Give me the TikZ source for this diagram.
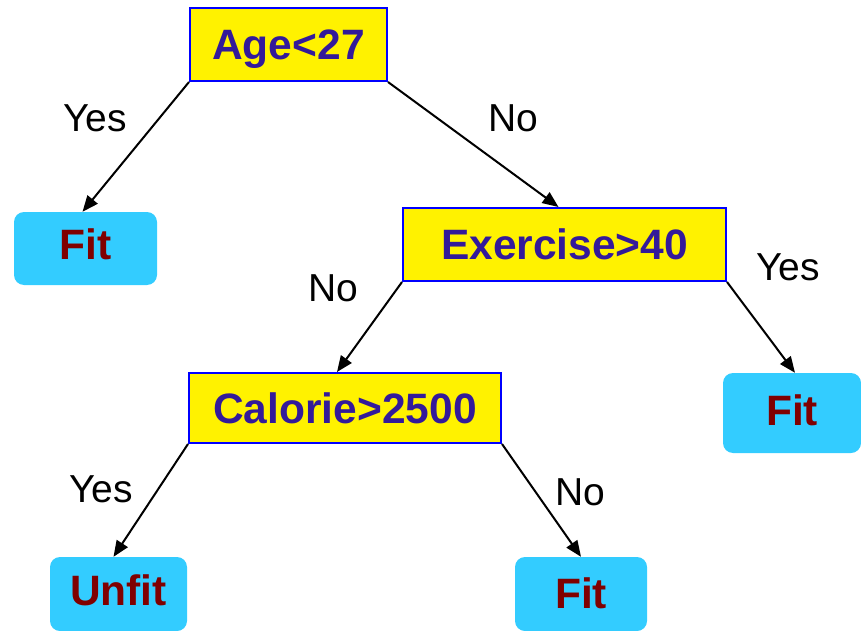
\documentclass[tikz,border=0pt]{standalone}
\usepackage{fontspec}
\setmainfont{Liberation Sans}
\usetikzlibrary{arrows.meta}
\definecolor{boxblue}{HTML}{0000FF}
\definecolor{txtblue}{HTML}{331A9A}
\definecolor{leafcyan}{HTML}{33CCFF}
\definecolor{leafred}{HTML}{800000}
\begin{document}
\begin{tikzpicture}[x=1pt,y=-1pt,
  test/.style={draw=boxblue, line width=2pt, fill=yellow, text=txtblue,
    font=\fontsize{42.5}{48}\selectfont\bfseries, inner sep=0pt,
    text height=30.4pt, text depth=0pt},
  leaf/.style={fill=leafcyan, rounded corners=10pt, text=leafred,
    font=\fontsize{42.5}{48}\selectfont\bfseries, inner sep=0pt,
    text height=30.4pt, text depth=#1},
  leaf/.default=0pt,
  edge/.style={line width=2pt, -{Triangle[length=16pt,width=13pt]}},
  lbl/.style={font=\fontsize{39}{46}\selectfont, inner sep=0pt}]
\useasboundingbox (0,0) rectangle (861,631);
\node[test, minimum width=197pt, minimum height=73pt] (age) at (288.5,44.5) {Age<27};
\node[leaf=8pt, minimum width=143pt, minimum height=73pt] (fit1) at (85.5,248.5) {Fit};
\node[test, minimum width=323pt, minimum height=73pt] (ex) at (564.5,244.5) {Exercise>40};
\node[test, minimum width=312pt, minimum height=70pt] (cal) at (345,408) {Calorie>2500};
\node[leaf=6pt, minimum width=138pt, minimum height=80pt] (fit2) at (792,413) {Fit};
\node[leaf=8pt, minimum width=137pt, minimum height=74pt] (unfit) at (118.5,594) {Unfit};
\node[leaf=2pt, minimum width=132pt, minimum height=74pt] (fit3) at (581,594) {Fit};

\draw[edge] (age.south west) -- ([xshift=-3pt]fit1.north);
\draw[edge] (age.south east) -- ([xshift=-6pt]ex.north);
\draw[edge] (ex.south west) -- ([xshift=-8pt]cal.north);
\draw[edge] (ex.south east) -- ([xshift=3pt]fit2.north);
\draw[edge] (cal.south west) -- ([xshift=-5pt]unfit.north);
\draw[edge] (cal.south east) -- (fit3.north);

\node[lbl] (l1) at (95,118) {Yes};
\node[lbl] (l2) at (513,118) {No};
\node[lbl] (l3) at (333,288) {No};
\node[lbl] (l4) at (788,267) {Yes};
\node[lbl] (l5) at (101,489) {Yes};
\node[lbl] (l6) at (580,492) {No};
\end{tikzpicture}
\end{document}
